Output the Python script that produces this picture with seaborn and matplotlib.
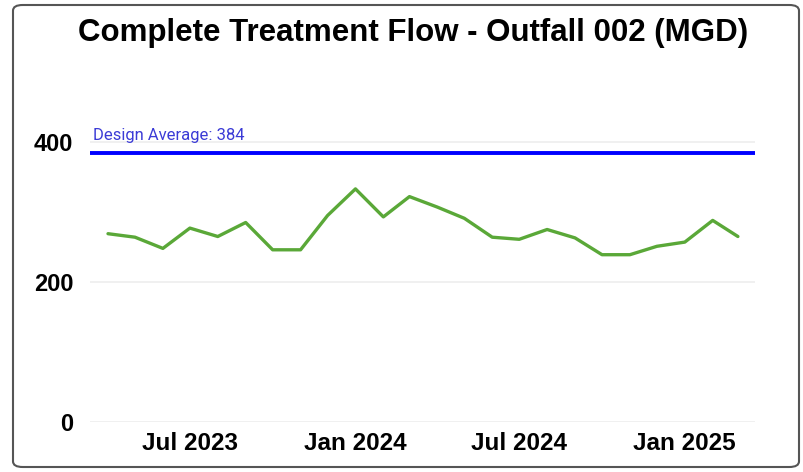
import pandas as pd
import seaborn as sns
import matplotlib.pyplot as plt
import matplotlib.dates as mdates
from matplotlib.patches import FancyBboxPatch

months = ["2023-04", "2023-05", "2023-06", "2023-07", "2023-08", "2023-09",
          "2023-10", "2023-11", "2023-12", "2024-01", "2024-02", "2024-03",
          "2024-04", "2024-05", "2024-06", "2024-07", "2024-08", "2024-09",
          "2024-10", "2024-11", "2024-12", "2025-01", "2025-02", "2025-03"]
flow_mgd = [269, 264, 248, 277, 265, 285, 246, 246, 295, 333, 293, 322,
            307, 291, 264, 261, 275, 263, 239, 239, 251, 257, 288, 265]
design_average = 384
y_ticks = [0, 200, 400]

df = pd.DataFrame({"month": pd.to_datetime(months), "flow": flow_mgd})

sns.set_theme(style="white")
plt.rcParams["font.family"] = ["Liberation Sans", "DejaVu Sans"]
plt.rcParams["text.color"] = "black"
plt.rcParams["xtick.color"] = "black"
plt.rcParams["ytick.color"] = "black"

fig = plt.figure(figsize=(8.04, 4.72), dpi=100)
ax = fig.add_axes([90 / 804, 50 / 472, 665 / 804, 350 / 472])

sns.lineplot(data=df, x="month", y="flow", color="#5aa838", linewidth=2.4, ax=ax)
ax.axhline(design_average, color="#0000ff", linewidth=2.8)
ax.annotate(f"Design Average: {design_average}", xy=(0.004, design_average),
            xycoords=("axes fraction", "data"), xytext=(0, 13),
            textcoords="offset points", va="center", ha="left",
            color="#3b3bd6", fontsize=12, family=["Roboto", "DejaVu Sans"])

ax.set_ylim(0, 500)
ax.set_yticks(y_ticks)
ax.set_xlim(pd.Timestamp("2023-03-12"), pd.Timestamp("2025-03-20"))
ax.xaxis.set_major_locator(mdates.MonthLocator(bymonth=[1, 7]))
ax.xaxis.set_major_formatter(mdates.DateFormatter("%b %Y"))
ax.yaxis.grid(True, color="#eeeeee", linewidth=1.2)
ax.xaxis.grid(False)
ax.set_axisbelow(True)
for s in ax.spines.values():
    s.set_visible(False)
ax.tick_params(axis="y", length=0, pad=12, labelsize=17)
ax.tick_params(axis="x", length=0, pad=7, labelsize=17.5)
for lab in ax.get_xticklabels() + ax.get_yticklabels():
    lab.set_fontweight("bold")
ax.set_xlabel("")
ax.set_ylabel("")

fig.text(413 / 804, (472 - 33) / 472, "Complete Treatment Flow - Outfall 002 (MGD)",
         ha="center", va="center", fontsize=22.5, fontweight="bold")

border = FancyBboxPatch((13 / 804, 5 / 472), 786 / 804, 462 / 472,
                        boxstyle="round,pad=0,rounding_size=0.012",
                        transform=fig.transFigure, fill=False,
                        edgecolor="#555555", linewidth=1.5)
fig.patches.append(border)

fig.savefig("out.png", dpi=100)
